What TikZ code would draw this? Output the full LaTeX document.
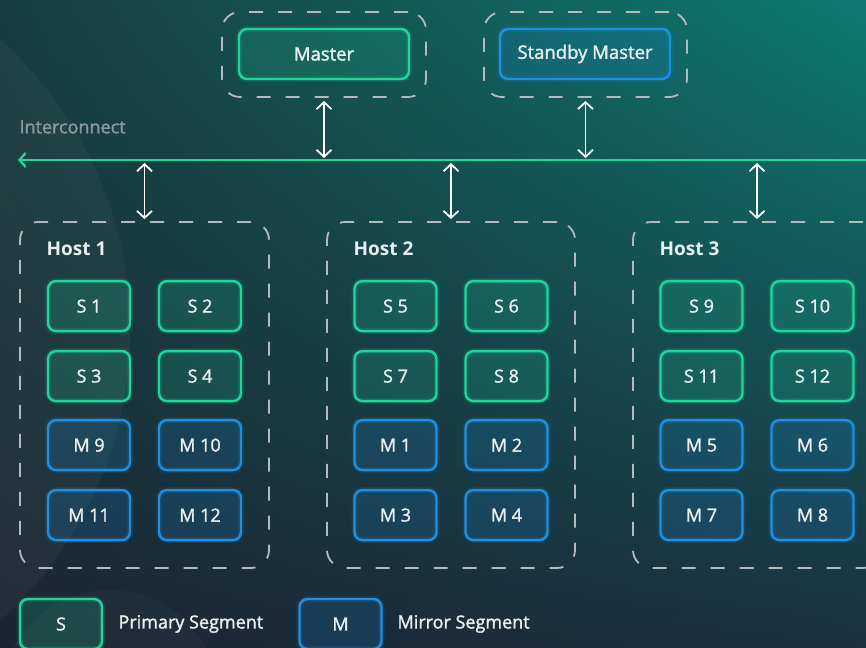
\documentclass[tikz,border=0pt]{standalone}
\usepackage{fontspec}
\setmainfont{Open Sans}[UprightFeatures={FakeBold=1.6}]
\usetikzlibrary{arrows.meta}
\usetikzlibrary{shadings}
\definecolor{prim}{HTML}{1ED89B}
\definecolor{mirr}{HTML}{1E90E4}
\definecolor{dashgray}{HTML}{B4BBBF}
\definecolor{txt}{HTML}{E9EFEF}
\definecolor{icgray}{HTML}{8C9A9C}
\definecolor{bgUL}{HTML}{183E3F}
\definecolor{bgUR}{HTML}{0D7A72}
\definecolor{bgLL}{HTML}{1A2632}
\definecolor{bgLR}{HTML}{1A3040}

\begin{document}
\begin{tikzpicture}[x=1pt,y=-1pt,
  font=\fontsize{18}{20}\selectfont,
  segbox/.style={draw=#1, fill=#1, fill opacity=0.17, text opacity=1,
    text=txt, line width=2.4pt, rounded corners=8pt,
    minimum width=82pt, minimum height=50pt,
    preaction={draw=#1, draw opacity=0.12, line width=6pt}},
  framebox/.style={draw=dashgray, line width=1.8pt, rounded corners=18pt,
    dash pattern=on 14pt off 15pt},
  link/.style={draw=white, line width=1.8pt,
    {Straight Barb[length=7pt,width=15pt]}-{Straight Barb[length=7pt,width=15pt]}}]
\clip (0,0) rectangle (866,647);
% background
\shade[upper left=bgUL, upper right=bgUR, lower left=bgLL, lower right=bgLR]
  (0,0) rectangle (866,647);
\fill[white, opacity=0.035] (-260,330) circle (390);
\fill[white, opacity=0.025] (110,700) circle (110);

% masters
\node[framebox, minimum width=204pt, minimum height=85pt] (mframe) at (324,54.5) {};
\node[segbox=prim, minimum width=170pt, minimum height=50pt, font=\fontsize{18.5}{20}\selectfont] (master) at (324,54) {Master};
\node[framebox, minimum width=203pt, minimum height=85pt] (sframe) at (585.5,54.5) {};
\node[segbox=mirr, minimum width=170pt, minimum height=50pt, font=\fontsize{18.5}{20}\selectfont] (standby) at (585,54) {Standby Master};

% interconnect
\node[anchor=west, text=icgray] (iclabel) at (16,127) {Interconnect};
\coordinate (icl) at (18,160);
\coordinate (icr) at (870,160);
\draw[prim, line width=2.4pt, {Straight Barb[length=6pt,width=14pt]}-] (icl) -- (icr);

% hosts
\node[framebox, minimum width=249pt, minimum height=346pt] (host1) at (144.5,395) {};
\node[framebox, minimum width=248pt, minimum height=346pt] (host2) at (451,395) {};
\node[framebox, minimum width=248pt, minimum height=346pt] (host3) at (757,395) {};
\foreach \h in {1,2,3}
  \node[anchor=west, text=txt, font=\fontsize{19}{21}\selectfont\bfseries]
    (hlabel\h) at ([xshift=24pt,yshift=-28pt]host\h.north west) {Host \h};

% segments
\foreach \h/\a/\b/\c/\d/\e/\f/\g/\k in {1/1/2/3/4/9/10/11/12, 2/5/6/7/8/1/2/3/4, 3/9/10/11/12/5/6/7/8}{
  \node[segbox=prim] (s\a) at ([xshift=-55.5pt,yshift=-85pt]host\h.north) {S \a};
  \node[segbox=prim] (s\b) at ([xshift=55.5pt,yshift=-85pt]host\h.north) {S \b};
  \node[segbox=prim] (s\c) at ([xshift=-55.5pt,yshift=-155pt]host\h.north) {S \c};
  \node[segbox=prim] (s\d) at ([xshift=55.5pt,yshift=-155pt]host\h.north) {S \d};
  \node[segbox=mirr] (m\e) at ([xshift=-55.5pt,yshift=-224pt]host\h.north) {M \e};
  \node[segbox=mirr] (m\f) at ([xshift=55.5pt,yshift=-224pt]host\h.north) {M \f};
  \node[segbox=mirr] (m\g) at ([xshift=-55.5pt,yshift=-294pt]host\h.north) {M \g};
  \node[segbox=mirr] (m\k) at ([xshift=55.5pt,yshift=-294pt]host\h.north) {M \k};
}

% links to interconnect
\draw[link, shorten <=3pt, shorten >=2pt] (mframe.south) -- (mframe.south |- icl);
\draw[link, shorten <=3pt, shorten >=2pt] (sframe.south) -- (sframe.south |- icl);
\foreach \h in {1,2,3}
  \draw[link, shorten <=3pt, shorten >=2pt] (host\h.north |- icl) -- (host\h.north);

% legend
\node[segbox=prim] (legs) at (61,624) {S};
\node[anchor=west, text=txt] (legslabel) at (115,624) {Primary Segment};
\node[segbox=mirr] (legm) at (340.5,624) {M};
\node[anchor=west, text=txt] (legmlabel) at (394,624) {Mirror Segment};
\end{tikzpicture}
\end{document}
